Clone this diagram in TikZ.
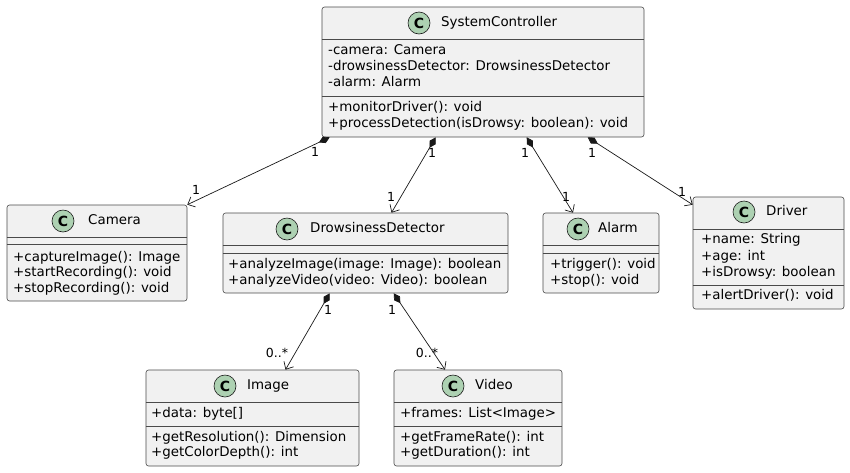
\documentclass[tikz,border=0pt]{standalone}
\usepackage{fontspec}
\setmainfont{DejaVu Sans}
\usepackage{tikz}
\usetikzlibrary{arrows.meta}

\definecolor{boxfill}{HTML}{F1F1F1}
\definecolor{boxline}{HTML}{4A4A4A}
\definecolor{linkline}{HTML}{181818}
\definecolor{spotfill}{HTML}{ADD1B2}

\tikzset{
  cls/.style={draw=boxline, fill=boxfill, line width=0.6pt, rounded corners=2.5pt, inner sep=0pt},
  sepline/.style={draw=boxline, line width=0.6pt},
  spot/.style={circle, draw=linkline, fill=spotfill, line width=0.6pt, minimum size=22pt, inner sep=0pt, font=\fontsize{14}{14}\selectfont\bfseries},
  member/.style={anchor=west, inner sep=0pt, text height=10pt, text depth=3pt, font=\fontsize{13.4}{16}\selectfont},
  mult/.style={inner sep=0pt, font=\fontsize{12.5}{13}\selectfont},
  comp/.style={draw=linkline, line width=0.7pt, {Diamond[length=12pt,width=7pt]}-{Straight Barb[length=6pt,width=11pt]}},
}

\begin{document}
\begin{tikzpicture}[x=1pt,y=-1pt]
  \useasboundingbox (0,0) rectangle (850,472);

  % SystemController
  \node[cls, minimum width=322pt, minimum height=130pt] (ctrl) at (483,72) {};
  \node[spot] (ctrlC) at (419,23) {C};
  \node[member] (ctrlN) at (441,23) {SystemController};
  \draw[sepline] (ctrl.west |- 0,39) -- (ctrl.east |- 0,39);
  \draw[sepline] (ctrl.west |- 0,96) -- (ctrl.east |- 0,96);
  \node[member] (ctrlA1) at (328,51) {-camera: Camera};
  \node[member] (ctrlA2) at (328,67) {-drowsinessDetector: DrowsinessDetector};
  \node[member] (ctrlA3) at (328,83) {-alarm: Alarm};
  \node[member] (ctrlM1) at (328,108) {+monitorDriver(): void};
  \node[member] (ctrlM2) at (328,124) {+processDetection(isDrowsy: boolean): void};

  % Camera
  \node[cls, minimum width=180pt, minimum height=96pt] (cam) at (97,253) {};
  \node[spot] (camC) at (63,221) {C};
  \node[member] (camN) at (88,221) {Camera};
  \draw[sepline] (cam.west |- 0,237) -- (cam.east |- 0,237);
  \draw[sepline] (cam.west |- 0,244) -- (cam.east |- 0,244);
  \node[member] (camM1) at (13,258) {+captureImage(): Image};
  \node[member] (camM2) at (13,273) {+startRecording(): void};
  \node[member] (camM3) at (13,289) {+stopRecording(): void};

  % DrowsinessDetector
  \node[cls, minimum width=285pt, minimum height=80pt] (dd) at (365.5,253) {};
  \node[spot] (ddC) at (287,229) {C};
  \node[member] (ddN) at (310,229) {DrowsinessDetector};
  \draw[sepline] (dd.west |- 0,245) -- (dd.east |- 0,245);
  \draw[sepline] (dd.west |- 0,253) -- (dd.east |- 0,253);
  \node[member] (ddM1) at (228,265) {+analyzeImage(image: Image): boolean};
  \node[member] (ddM2) at (228,281) {+analyzeVideo(video: Video): boolean};

  % Alarm
  \node[cls, minimum width=116pt, minimum height=80pt] (alarm) at (601,253) {};
  \node[spot] (alarmC) at (578,229) {C};
  \node[member] (alarmN) at (598,229) {Alarm};
  \draw[sepline] (alarm.west |- 0,245) -- (alarm.east |- 0,245);
  \draw[sepline] (alarm.west |- 0,253) -- (alarm.east |- 0,253);
  \node[member] (alarmM1) at (550,265) {+trigger(): void};
  \node[member] (alarmM2) at (550,281) {+stop(): void};

  % Driver
  \node[cls, minimum width=151pt, minimum height=112pt] (driver) at (768.5,253) {};
  \node[spot] (driverC) at (744,212) {C};
  \node[member] (driverN) at (766,212) {Driver};
  \draw[sepline] (driver.west |- 0,229) -- (driver.east |- 0,229);
  \draw[sepline] (driver.west |- 0,285) -- (driver.east |- 0,285);
  \node[member] (driverA1) at (701,240) {+name: String};
  \node[member] (driverA2) at (701,257) {+age: int};
  \node[member] (driverA3) at (701,273) {+isDrowsy: boolean};
  \node[member] (driverM1) at (701,296) {+alertDriver(): void};

  % Image
  \node[cls, minimum width=213pt, minimum height=96pt] (img) at (252.5,418) {};
  \node[spot] (imgC) at (225,386) {C};
  \node[member] (imgN) at (247,386) {Image};
  \draw[sepline] (img.west |- 0,402) -- (img.east |- 0,402);
  \draw[sepline] (img.west |- 0,426) -- (img.east |- 0,426);
  \node[member] (imgA1) at (151,414) {+data: byte[]};
  \node[member] (imgM1) at (151,438) {+getResolution(): Dimension};
  \node[member] (imgM2) at (151,453) {+getColorDepth(): int};

  % Video
  \node[cls, minimum width=168pt, minimum height=96pt] (video) at (478,418) {};
  \node[spot] (videoC) at (453,386) {C};
  \node[member] (videoN) at (475,386) {Video};
  \draw[sepline] (video.west |- 0,402) -- (video.east |- 0,402);
  \draw[sepline] (video.west |- 0,426) -- (video.east |- 0,426);
  \node[member] (videoA1) at (400,414) {+frames: List<Image>};
  \node[member] (videoM1) at (400,438) {+getFrameRate(): int};
  \node[member] (videoM2) at (400,453) {+getDuration(): int};

  % compositions
  \draw[comp] ([xshift=8pt]ctrl.south west) -- (cam.north east);
  \draw[comp] ([xshift=114pt]ctrl.south west) -- ([xshift=26pt]dd.north);
  \draw[comp] ([xshift=205pt]ctrl.south west) -- ([xshift=-28pt]alarm.north);
  \draw[comp] ([xshift=266pt]ctrl.south west) -- ([yshift=-8pt]driver.north west);
  \draw[comp] ([xshift=107pt]dd.south west) -- ([xshift=33pt]img.north);
  \draw[comp] ([xshift=171pt]dd.south west) -- ([xshift=-33pt]video.north);

  % multiplicities
  \node[mult] (m1a) at (315,152) {1};
  \node[mult] (m1b) at (196,190) {1};
  \node[mult] (m2a) at (432,153) {1};
  \node[mult] (m2b) at (391,197) {1};
  \node[mult] (m3a) at (525,153) {1};
  \node[mult] (m3b) at (566,197) {1};
  \node[mult] (m4a) at (592,153) {1};
  \node[mult] (m4b) at (682,192) {1};
  \node[mult] (m5a) at (328,310) {1};
  \node[mult] (m5b) at (277,353) {0..*};
  \node[mult] (m6a) at (392,310) {1};
  \node[mult] (m6b) at (427,353) {0..*};
\end{tikzpicture}
\end{document}
